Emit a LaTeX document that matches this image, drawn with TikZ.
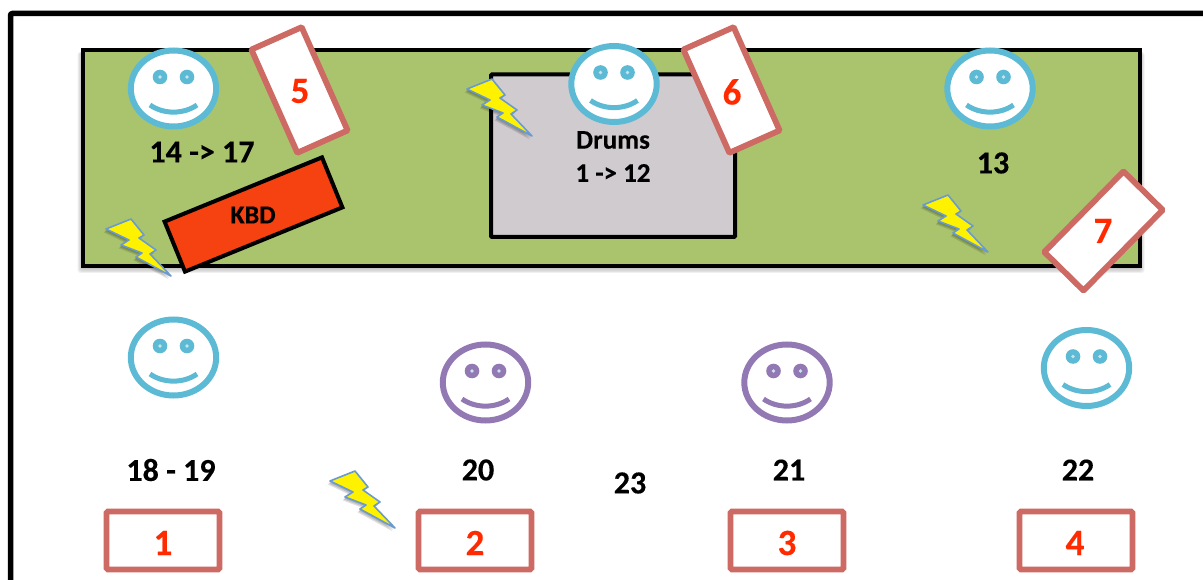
\documentclass[tikz,border=0pt]{standalone}
\usepackage{fontspec}
\setmainfont{Carlito}[BoldFeatures={FakeBold=0.35}]
\definecolor{smblue}{HTML}{5CBAD4}
\definecolor{smpurple}{HTML}{9279B3}
\definecolor{pale}{HTML}{C6E4EE}
\definecolor{boxred}{HTML}{CD6A63}
\definecolor{txtred}{HTML}{FF2A00}
\definecolor{stage}{HTML}{AAC46E}
\definecolor{drumgrey}{HTML}{CFCBCF}
\definecolor{kbdred}{HTML}{F64110}
\definecolor{boltedge}{HTML}{6A9BD0}
\tikzset{
  x=1pt,y=-1pt,
  lab/.style={font=\fontsize{32}{32}\selectfont\bfseries,text=black,inner sep=0pt},
  redlab/.style={font=\fontsize{37}{37}\selectfont\bfseries,text=txtred,inner sep=0pt},
  slot/.style={draw=boxred,fill=white,line width=5.8pt,rounded corners=1.5pt,inner sep=0pt,minimum width=113pt,minimum height=58pt},
  tilted/.style={draw=boxred,fill=white,line width=5.8pt,rounded corners=1pt,inner sep=0pt,minimum width=55pt,minimum height=113pt}
}
\newcommand{\smiley}[3]{%
  \begin{scope}[shift={(#1,#2)}]
    \draw[#3,line width=6pt,fill=white] (0,0) ellipse [x radius=42.7,y radius=38];
    \fill[#3] (-13.5,-11.5) circle [radius=7.3];
    \fill[#3] (13.5,-11.5) circle [radius=7.3];
    \fill[pale] (-13.5,-11.5) circle [radius=1.8];
    \fill[pale] (13.5,-11.5) circle [radius=1.8];
    \draw[#3,line width=5pt] (-23.5,16.5) .. controls (-10,26) and (10,26) .. (23.5,16.5);
  \end{scope}}
\newcommand{\boltpath}{(0,0) -- (25,-10) -- (38,6) -- (33,9) -- (50,21) -- (44,25) -- (65,47) -- (30,28) -- (36,24) -- (15,16) -- (23,11) -- cycle}
\newcommand{\bolt}[2]{%
  \begin{scope}[shift={(#1,#2)}]
    \foreach \d in {1,2,3}{\fill[black,opacity=.13,shift={(-\d*.8,\d*1.1)}] \boltpath;}
    \draw[boltedge,fill=yellow,line width=1.6pt,line join=round] \boltpath;
  \end{scope}}
\begin{document}
\begin{tikzpicture}
\useasboundingbox (0,0) rectangle (1203,580);
\fill[white] (0,0) rectangle (1203,580);
\draw[black,line width=5.5pt,rounded corners=2pt] (10.5,580) -- (10.5,13.5) -- (1203,13.5);
\foreach \d in {1,2,3,4,5}{\fill[black,opacity=.06,rounded corners=3pt] (82.5-\d,50+2) rectangle (1139.5+\d,266+1.2*\d+1);}
\node[draw=black,fill=stage,line width=4pt,inner sep=0pt,minimum width=1057pt,minimum height=216pt] (stage) at (611,158) {};
\node[draw=black,fill=drumgrey,line width=4pt,rounded corners=1pt,inner sep=0pt,minimum width=244pt,minimum height=162.5pt] (drums) at (613,155.75) {};
\smiley{173.5}{88.5}{smblue}
\smiley{614}{84}{smblue}
\smiley{990}{88.5}{smblue}
\smiley{173.5}{357.5}{smblue}
\smiley{485.5}{382.5}{smpurple}
\smiley{787}{382.5}{smpurple}
\smiley{1086.5}{368}{smblue}
\node[tilted,rotate=24] (box5) at (299.5,90) {};
\node[tilted,rotate=24] (box6) at (731.5,90) {};
\node[tilted,rotate=-44.5] (box7) at (1103.5,231) {};
\node[draw=black,fill=kbdred,line width=4pt,inner sep=0pt,rotate=22.2,minimum width=170pt,minimum height=54pt] (kbd) at (253.5,214.5) {};
\node[slot] (box1) at (163,540.5) {};
\node[slot] (box2) at (475,540.5) {};
\node[slot] (box3) at (787,540.5) {};
\node[slot] (box4) at (1076,540.5) {};
\bolt{106}{229}
\bolt{467}{89}
\bolt{923}{205}
\bolt{330}{481}
\node[lab] (t1) at (202,152) {14 -> 17};
\node[lab] (t2) at (993,163) {13};
\node[lab,font=\fontsize{27}{27}\selectfont\bfseries] (t3) at (613,140) {Drums};
\node[lab,font=\fontsize{27}{27}\selectfont\bfseries] (t4) at (613,173) {1 -> 12};
\node[lab,font=\fontsize{26}{26}\selectfont\bfseries] (t5) at (253,215) {KBD};
\node[lab] (t6) at (171,470) {18 - 19};
\node[lab] (t7) at (478,470) {20};
\node[lab] (t8) at (630,483) {23};
\node[lab] (t9) at (789,470) {21};
\node[lab] (t10) at (1078,470) {22};
\node[redlab] at (300,91) {5};
\node[redlab] at (732,92) {6};
\node[redlab] at (1103,231) {7};
\node[redlab] at (163,543) {1};
\node[redlab] at (475,543) {2};
\node[redlab] at (787,543) {3};
\node[redlab] at (1075,543) {4};
\end{tikzpicture}
\end{document}
